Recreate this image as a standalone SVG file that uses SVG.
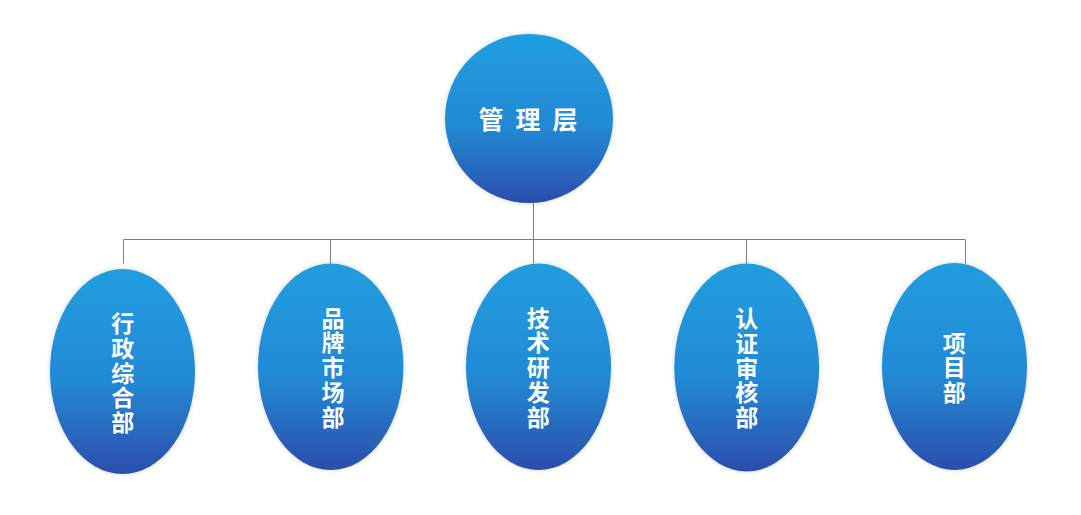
<svg xmlns="http://www.w3.org/2000/svg" width="1081" height="515" viewBox="0 0 1081 515">
<defs>
<linearGradient id="g" x1="0" y1="0" x2="0" y2="1">
<stop offset="0" stop-color="#1f9ee0"/>
<stop offset="0.55" stop-color="#2389d4"/>
<stop offset="1" stop-color="#2c4dab"/>
</linearGradient>
<filter id="sh" x="-20%" y="-20%" width="140%" height="140%">
<feGaussianBlur in="SourceAlpha" stdDeviation="2.5"/>
<feOffset dx="0" dy="0"/>
<feComponentTransfer><feFuncA type="linear" slope="0.18"/></feComponentTransfer>
<feMerge><feMergeNode/><feMergeNode in="SourceGraphic"/></feMerge>
</filter>
</defs>
<style>
.n{fill:url(#g);filter:url(#sh);}
.t{font-family:"Noto Sans CJK SC","Noto Sans",sans-serif;font-weight:bold;fill:#ffffff;text-anchor:middle;dominant-baseline:central;}
.v{font-size:23px;}
.h{font-size:25px;}
.c{stroke:#7f7f7f;stroke-width:1;fill:none;}
</style>
<rect width="1081" height="515" fill="#ffffff"/>
<g id="connectors">
<path class="c" d="M533.5 203V263.5M123.5 239.5H965.5M123.5 239.5V263.5M330.5 239.5V263.5M746.5 239.5V263.5M965.5 239.5V263.5"/>
</g>
<g id="top">
<ellipse class="n" cx="529" cy="118.5" rx="84" ry="84.5"/>
<text class="t h" x="491" y="118">管</text>
<text class="t h" x="528" y="118">理</text>
<text class="t h" x="565" y="118">层</text>
</g>
<g id="n1">
<ellipse class="n" cx="122.5" cy="371.5" rx="72.5" ry="102.5"/>
<text class="t v"><tspan x="122.7" y="322">行</tspan><tspan x="122.7" y="346.75">政</tspan><tspan x="122.7" y="371.5">综</tspan><tspan x="122.7" y="396.25">合</tspan><tspan x="122.7" y="421">部</tspan></text>
</g>
<g id="n2">
<ellipse class="n" cx="330.7" cy="366.7" rx="72.7" ry="103.3"/>
<text class="t v"><tspan x="333" y="316.5">品</tspan><tspan x="333" y="341.25">牌</tspan><tspan x="333" y="366">市</tspan><tspan x="333" y="390.75">场</tspan><tspan x="333" y="415.5">部</tspan></text>
</g>
<g id="n3">
<ellipse class="n" cx="538.5" cy="366.7" rx="72.5" ry="103.3"/>
<text class="t v"><tspan x="538.3" y="316.5">技</tspan><tspan x="538.3" y="341.25">术</tspan><tspan x="538.3" y="366">研</tspan><tspan x="538.3" y="390.75">发</tspan><tspan x="538.3" y="415.5">部</tspan></text>
</g>
<g id="n4">
<ellipse class="n" cx="746.7" cy="367.4" rx="72.4" ry="104"/>
<text class="t v"><tspan x="746.7" y="317">认</tspan><tspan x="746.7" y="341.75">证</tspan><tspan x="746.7" y="366.5">审</tspan><tspan x="746.7" y="391.25">核</tspan><tspan x="746.7" y="416">部</tspan></text>
</g>
<g id="n5">
<ellipse class="n" cx="954.5" cy="366.5" rx="72.5" ry="103.5"/>
<text class="t v"><tspan x="954.3" y="341.5">项</tspan><tspan x="954.3" y="366.25">目</tspan><tspan x="954.3" y="391">部</tspan></text>
</g>
</svg>
